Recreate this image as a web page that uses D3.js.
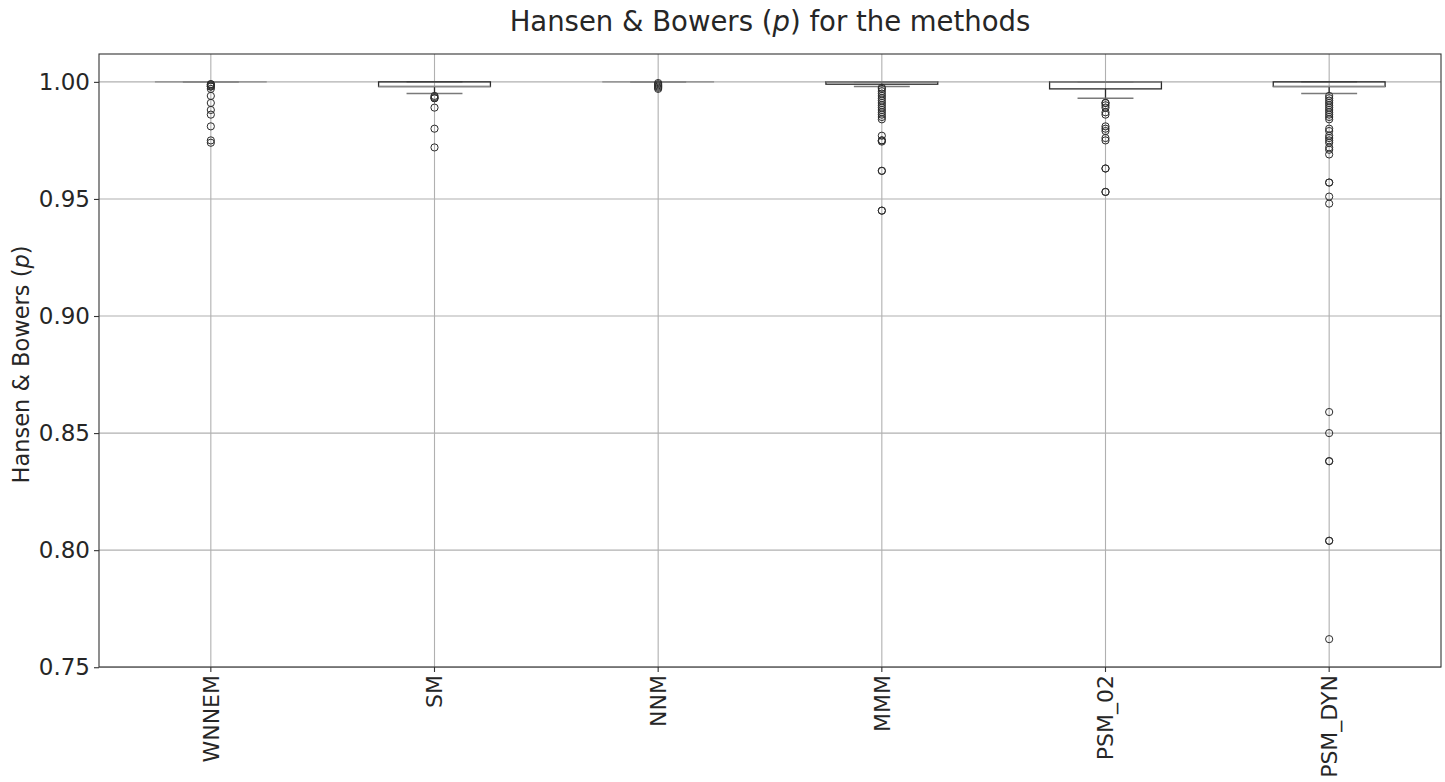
<!DOCTYPE html>
<html>
<head>
<meta charset="utf-8">
<script src="https://cdn.jsdelivr.net/npm/d3@7"></script>
<style>
  html, body { margin: 0; padding: 0; background: #ffffff; }
  svg { display: block; font-family: "DejaVu Sans", sans-serif; }
</style>
</head>
<body>
<svg id="chart" width="1445" height="782"></svg>
<script>
// Methods compared
const methods = ["WNNEM", "SM", "NNM", "MMM", "PSM_02", "PSM_DYN"];

// Box summary per method: quartiles, median, whisker ends
const q1 =        [1.000, 0.998, 1.000, 0.999, 0.997, 0.998];
const medians =   [1.000, 0.998, 1.000, 1.000, 1.000, 0.998];
const q3 =        [1.000, 1.000, 1.000, 1.000, 1.000, 1.000];
const whiskerLo = [1.000, 0.995, 1.000, 0.998, 0.993, 0.995];
const whiskerHi = [1.000, 1.000, 1.000, 1.000, 1.000, 1.000];

// Points beyond the whiskers (repeated values overlap)
const outliersWNNEM = [0.999, 0.999, 0.9985, 0.998, 0.998, 0.997, 0.994, 0.991, 0.988, 0.986, 0.981, 0.975, 0.974];
const outliersSM = [0.994, 0.9935, 0.993, 0.993, 0.989, 0.980, 0.972];
const outliersNNM = [0.9995, 0.999, 0.9985, 0.998, 0.9975, 0.997];
const outliersMMM = [0.9975, 0.997, 0.996, 0.995, 0.994, 0.993, 0.992, 0.991, 0.990, 0.989,
                     0.988, 0.987, 0.986, 0.985, 0.984, 0.977, 0.975, 0.975, 0.9745,
                     0.962, 0.962, 0.945, 0.945];
const outliersPSM02 = [0.991, 0.991, 0.990, 0.989, 0.987, 0.986, 0.981, 0.980, 0.979, 0.976,
                       0.975, 0.963, 0.963, 0.953, 0.953];
const outliersPSMDYN = [0.994, 0.993, 0.992, 0.991, 0.990, 0.989, 0.988, 0.987, 0.986, 0.985,
                        0.984, 0.980, 0.979, 0.977, 0.976, 0.975, 0.974, 0.972, 0.971, 0.969,
                        0.957, 0.957, 0.951, 0.948, 0.859, 0.850, 0.838, 0.838, 0.804, 0.804, 0.762];
const outliers = [outliersWNNEM, outliersSM, outliersNNM, outliersMMM, outliersPSM02, outliersPSMDYN];

// Axis ticks
const yTicks = [0.75, 0.80, 0.85, 0.90, 0.95, 1.00];
const yDomain = [0.7501, 1.0119];

const svg = d3.select("#chart");
const plotLeft = 99, plotRight = 1441, plotTop = 54, plotBottom = 667;
const textColor = "#262626";

const x = d3.scaleBand().domain(methods).range([plotLeft, plotRight]).padding(0);
const y = d3.scaleLinear().domain(yDomain).range([plotBottom, plotTop]);
const bw = x.bandwidth();
const cx = m => x(m) + bw / 2;

// Grid
const grid = svg.append("g").attr("stroke", "#b0b0b0").attr("stroke-width", 1.1);
grid.selectAll("line.h").data(yTicks).join("line")
  .attr("x1", plotLeft).attr("x2", plotRight)
  .attr("y1", d => y(d)).attr("y2", d => y(d));
grid.selectAll("line.v").data(methods).join("line")
  .attr("x1", d => cx(d)).attr("x2", d => cx(d))
  .attr("y1", plotTop).attr("y2", plotBottom);

// Boxes
const rows = methods.map((m, i) => ({
  m, q1: q1[i], med: medians[i], q3: q3[i], lo: whiskerLo[i], hi: whiskerHi[i], out: outliers[i]
}));
const boxW = bw * 0.5, capW = bw * 0.25;
const boxes = svg.append("g");
rows.forEach(r => {
  const g = boxes.append("g");
  const c = cx(r.m);
  // whiskers
  g.append("line").attr("x1", c).attr("x2", c).attr("y1", y(r.q1)).attr("y2", y(r.lo))
    .attr("stroke", "#2b2b2b").attr("stroke-width", 1.3);
  g.append("line").attr("x1", c).attr("x2", c).attr("y1", y(r.q3)).attr("y2", y(r.hi))
    .attr("stroke", "#2b2b2b").attr("stroke-width", 1.3);
  // caps
  [r.lo, r.hi].forEach(v => {
    g.append("line").attr("x1", c - capW / 2).attr("x2", c + capW / 2)
      .attr("y1", y(v)).attr("y2", y(v))
      .attr("stroke", "#7a7a7a").attr("stroke-width", 1.4);
  });
  // box
  g.append("rect").attr("x", c - boxW / 2).attr("width", boxW)
    .attr("y", y(r.q3)).attr("height", Math.max(0, y(r.q1) - y(r.q3)))
    .attr("fill", "none").attr("stroke", "#2b2b2b").attr("stroke-width", 1.3);
  // median
  g.append("line").attr("x1", c - boxW / 2).attr("x2", c + boxW / 2)
    .attr("y1", y(r.med)).attr("y2", y(r.med))
    .attr("stroke", "#8a8a8a").attr("stroke-width", 1.4);
  // fliers
  g.selectAll("circle").data(r.out).join("circle")
    .attr("cx", c).attr("cy", d => y(d)).attr("r", 3.6)
    .attr("fill", "none").attr("stroke", "#2b2b2b").attr("stroke-width", 1);
});

// Frame
svg.append("rect").attr("x", plotLeft).attr("y", plotTop)
  .attr("width", plotRight - plotLeft).attr("height", plotBottom - plotTop)
  .attr("fill", "none").attr("stroke", "#333333").attr("stroke-width", 1.1);

// Y axis
const yAxis = svg.append("g").attr("transform", `translate(${plotLeft},0)`)
  .call(d3.axisLeft(y).tickValues(yTicks).tickFormat(d3.format(".2f")).tickSize(5).tickSizeOuter(0).tickPadding(4));
yAxis.select(".domain").remove();
yAxis.selectAll(".tick line").attr("stroke", "#333333").attr("stroke-width", 1.1);
yAxis.selectAll(".tick text").attr("fill", textColor)
  .style("font-size", "23px").style("font-family", "'DejaVu Sans', sans-serif");

// X axis
const xAxis = svg.append("g").attr("transform", `translate(0,${plotBottom})`)
  .call(d3.axisBottom(x).tickSize(5).tickSizeOuter(0).tickPadding(4));
xAxis.select(".domain").remove();
xAxis.selectAll(".tick line").attr("stroke", "#333333").attr("stroke-width", 1.1);
xAxis.selectAll(".tick text").attr("fill", textColor)
  .style("font-size", "22px").style("font-family", "'DejaVu Sans', sans-serif")
  .attr("text-anchor", "end")
  .attr("transform", "translate(0,8) rotate(-90)")
  .attr("x", 0).attr("y", 0).attr("dy", "0.35em");

// Y label
const yl = svg.append("text")
  .attr("transform", `translate(29,${(plotTop + plotBottom) / 2 + 4}) rotate(-90)`)
  .attr("text-anchor", "middle").attr("fill", textColor)
  .style("font-size", "22.5px");
yl.append("tspan").text("Hansen & Bowers (");
yl.append("tspan").attr("font-style", "italic").text("p");
yl.append("tspan").text(")");

// Title
const title = svg.append("text")
  .attr("x", (plotLeft + plotRight) / 2).attr("y", 31)
  .attr("text-anchor", "middle").attr("fill", textColor)
  .style("font-size", "27.5px");
title.append("tspan").text("Hansen & Bowers (");
title.append("tspan").attr("font-style", "italic").text("p");
title.append("tspan").text(") for the methods");
</script>
</body>
</html>
